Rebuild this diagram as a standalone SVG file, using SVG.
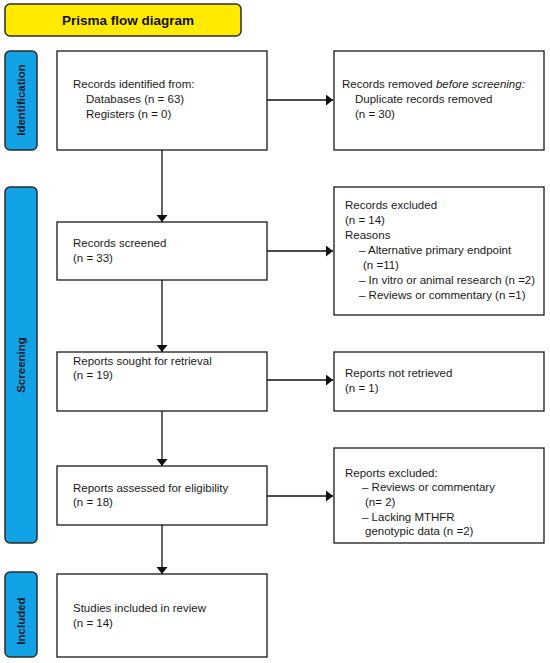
<svg xmlns="http://www.w3.org/2000/svg" width="550" height="663" viewBox="0 0 550 663">
<style>
.box{fill:#fff;stroke:#1a1a1a;stroke-width:1.3}
.bar{fill:#12a3e6;stroke:#2b2b2b;stroke-width:1.5}
.t{font-family:"Liberation Sans",Arial,sans-serif;font-size:11.5px;fill:#1a1a1a}
.bt{font-family:"Liberation Sans",Arial,sans-serif;font-size:11.5px;font-weight:bold;fill:#0d1726}
.c{stroke:#111;stroke-width:1.3;fill:none}
</style>
<defs>
<marker id="ah" markerUnits="userSpaceOnUse" markerWidth="8" markerHeight="12" refX="7" refY="5.5" orient="auto">
<path d="M0,0 L7,5.5 L0,11 Z" fill="#111"/>
</marker>
</defs>
<rect width="550" height="663" fill="#fff"/>
<g id="title">
<rect x="5" y="4" width="236" height="32" rx="5" fill="#ffea00" stroke="#2b2b2b" stroke-width="1.5"/>
<text x="128" y="25" text-anchor="middle" font-family="Liberation Sans,Arial,sans-serif" font-size="13.5" font-weight="bold" fill="#111">Prisma flow diagram</text>
</g>
<g id="bar-identification">
<rect class="bar" x="5" y="51" width="32" height="99" rx="5"/>
<text class="bt" transform="translate(21,100) rotate(-90)" text-anchor="middle" dominant-baseline="central">Identification</text>
</g>
<g id="bar-screening">
<rect class="bar" x="5" y="187" width="32" height="356" rx="5"/>
<text class="bt" transform="translate(21,365) rotate(-90)" text-anchor="middle" dominant-baseline="central">Screening</text>
</g>
<g id="bar-included">
<rect class="bar" x="5" y="572" width="32" height="85" rx="5"/>
<text class="bt" transform="translate(21,621) rotate(-90)" text-anchor="middle" dominant-baseline="central">Included</text>
</g>
<g id="identified">
<rect class="box" x="57" y="51" width="210" height="99"/>
<text class="t" x="73" y="88">Records identified from:</text>
<text class="t" x="86" y="103">Databases (n = 63)</text>
<text class="t" x="86" y="118">Registers (n = 0)</text>
</g>
<g id="removed">
<rect class="box" x="334" y="51" width="210" height="99"/>
<text class="t" x="342" y="88">Records removed <tspan font-style="italic">before screening:</tspan></text>
<text class="t" x="355" y="103">Duplicate records removed</text>
<text class="t" x="355" y="118">(n = 30)</text>
</g>
<g id="screened">
<rect class="box" x="57" y="222" width="210" height="58"/>
<text class="t" x="73" y="247">Records screened</text>
<text class="t" x="73" y="262">(n = 33)</text>
</g>
<g id="excluded">
<rect class="box" x="334" y="187" width="210" height="128"/>
<text class="t" x="345" y="209">Records excluded</text>
<text class="t" x="345" y="224">(n = 14)</text>
<text class="t" x="345" y="239">Reasons</text>
<text class="t" x="359" y="254">– Alternative primary endpoint</text>
<text class="t" x="363" y="269">(n =11)</text>
<text class="t" x="359" y="284">– In vitro or animal research (n =2)</text>
<text class="t" x="359" y="299">– Reviews or commentary (n =1)</text>
</g>
<g id="sought">
<rect class="box" x="57" y="352" width="210" height="59"/>
<text class="t" x="73" y="365">Reports sought for retrieval</text>
<text class="t" x="73" y="379">(n = 19)</text>
</g>
<g id="notretrieved">
<rect class="box" x="334" y="352" width="210" height="59"/>
<text class="t" x="345" y="377">Reports not retrieved</text>
<text class="t" x="345" y="392">(n = 1)</text>
</g>
<g id="assessed">
<rect class="box" x="57" y="466" width="210" height="59"/>
<text class="t" x="73" y="492">Reports assessed for eligibility</text>
<text class="t" x="73" y="506">(n = 18)</text>
</g>
<g id="reportsexcluded">
<rect class="box" x="334" y="448" width="210" height="95"/>
<text class="t" x="345" y="477">Reports excluded:</text>
<text class="t" x="362" y="491">– Reviews or commentary</text>
<text class="t" x="365" y="506">(n= 2)</text>
<text class="t" x="362" y="521">– Lacking MTHFR</text>
<text class="t" x="365" y="535">genotypic data (n =2)</text>
</g>
<g id="included">
<rect class="box" x="57" y="574" width="210" height="83"/>
<text class="t" x="73" y="612">Studies included in review</text>
<text class="t" x="73" y="627">(n = 14)</text>
</g>
<g id="connectors">
<line class="c" x1="267" y1="100" x2="333" y2="100" marker-end="url(#ah)"/>
<line class="c" x1="162" y1="150" x2="162" y2="222" marker-end="url(#ah)"/>
<line class="c" x1="267" y1="251" x2="333" y2="251" marker-end="url(#ah)"/>
<line class="c" x1="162" y1="280" x2="162" y2="352" marker-end="url(#ah)"/>
<line class="c" x1="267" y1="380" x2="333" y2="380" marker-end="url(#ah)"/>
<line class="c" x1="162" y1="411" x2="162" y2="466" marker-end="url(#ah)"/>
<line class="c" x1="267" y1="496" x2="333" y2="496" marker-end="url(#ah)"/>
<line class="c" x1="162" y1="525" x2="162" y2="574" marker-end="url(#ah)"/>
</g>
</svg>
